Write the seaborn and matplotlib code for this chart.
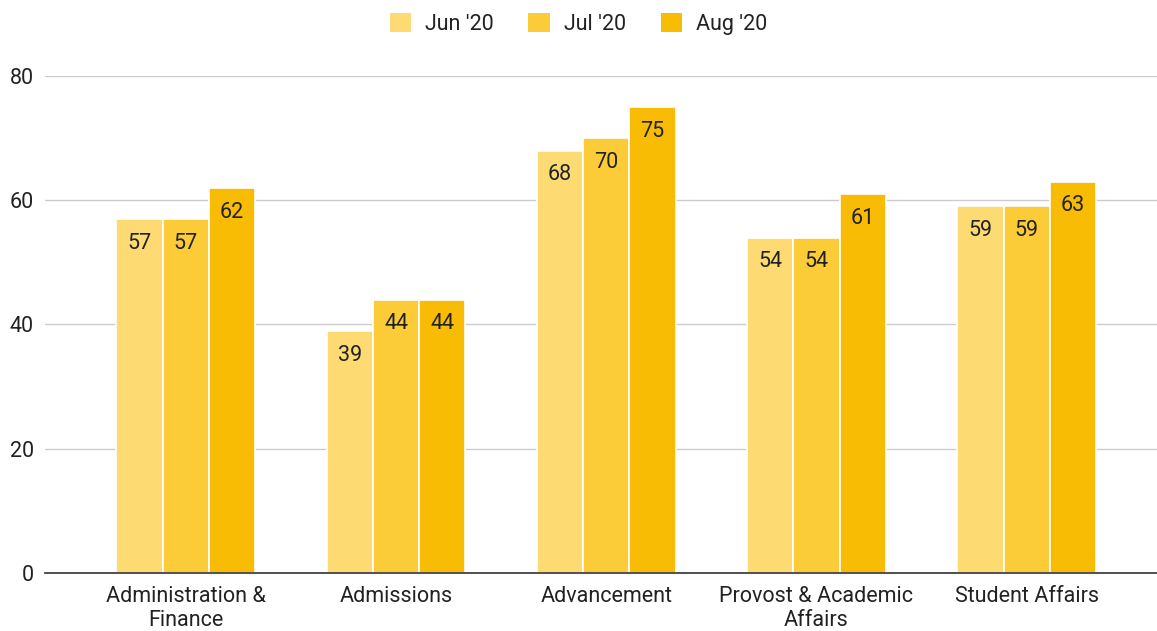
import matplotlib
matplotlib.use("Agg")
import matplotlib.pyplot as plt
import seaborn as sns
import pandas as pd

categories = ["Administration &\nFinance", "Admissions", "Advancement",
              "Provost & Academic\nAffairs", "Student Affairs"]
series_names = ["Jun '20", "Jul '20", "Aug '20"]
jun = [57, 39, 68, 54, 59]
jul = [57, 44, 70, 54, 59]
aug = [62, 44, 75, 61, 63]
colors = ["#FDDB72", "#FCCB38", "#F9BC05"]
yticks = [0, 20, 40, 60, 80]

rows = []
for name, vals in zip(series_names, [jun, jul, aug]):
    for c, v in zip(categories, vals):
        rows.append({"category": c, "series": name, "value": v})
df = pd.DataFrame(rows)

sns.set_theme(style="white")
plt.rcParams["font.family"] = ["Roboto", "DejaVu Sans"]

FS = 15.5
fig = plt.figure(figsize=(11.57, 6.31), dpi=100)
ax = fig.add_axes([45 / 1157, 58 / 631, 1 - 45 / 1157, 497 / 631])

sns.barplot(data=df, x="category", y="value", hue="series", order=categories,
            hue_order=series_names, palette=colors, width=0.66, ax=ax,
            edgecolor="white", linewidth=1.2, legend=False, saturation=1)

for cont in ax.containers:
    for bar in cont:
        h = bar.get_height()
        ax.annotate(f"{h:.0f}", (bar.get_x() + bar.get_width() / 2, h),
                    xytext=(0, -17.5), textcoords="offset points",
                    ha="center", va="center", fontsize=FS, color="#222222")

ax.set_ylim(0, 80)
ax.set_xlim(-0.67, 4.62)
ax.set_yticks(yticks)
ax.set_yticklabels([str(t) for t in yticks], fontsize=FS, color="#222222")
ax.tick_params(axis="x", labelsize=FS, colors="#222222", length=0, pad=9)
ax.tick_params(axis="y", length=0, pad=8)
for lab in ax.get_xticklabels():
    lab.set_linespacing(1.25)
ax.set_xlabel("")
ax.set_ylabel("")
ax.yaxis.grid(True, color="#CCCCCC", linewidth=1)
ax.set_axisbelow(True)
for s in ["top", "right", "left"]:
    ax.spines[s].set_visible(False)
ax.spines["bottom"].set_color("#333333")
ax.spines["bottom"].set_linewidth(1.2)
ax.spines["bottom"].set_zorder(5)

handles = [plt.Rectangle((0, 0), 1, 1, facecolor=c, edgecolor="none") for c in colors]
fig.legend(handles, series_names, loc="center", bbox_to_anchor=(0.5, 1 - 24 / 631),
           ncol=3, frameon=False, fontsize=FS, handlelength=1.0, handleheight=1.0,
           columnspacing=1.6, handletextpad=0.65, labelcolor="#222222")

fig.savefig("out.png", dpi=100)
